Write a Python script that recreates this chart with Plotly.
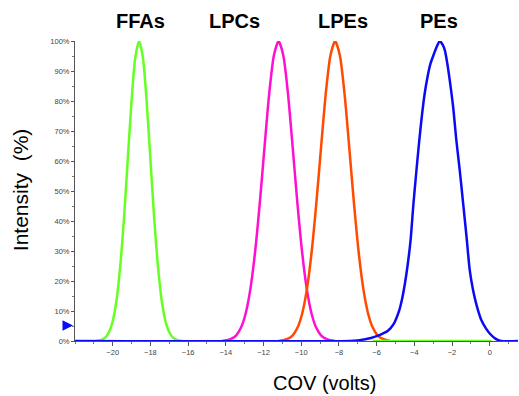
import plotly.graph_objects as go

# ---- data ----
ffa_x = [-20.9, -20.6, -20.4, -20.2, -20.0, -19.8, -19.6, -19.4, -19.2, -19.0, -18.8, -18.6,
         -18.4, -18.2, -18.0, -17.8, -17.6, -17.4, -17.2, -17.0, -16.8, -16.6, -16.3]
ffa_y = [0, 0.4, 1.1, 2.9, 6.6, 13.5, 25, 41, 60.6, 80, 94.6, 100,
         94.6, 80, 60.6, 41, 25, 13.5, 6.6, 2.9, 1.1, 0.4, 0]
ffa_base_x = [-6.2, 0.1]
ffa_base_y = [0, 0]

lpc_x = [-14.2, -13.95, -13.7, -13.45, -13.2, -12.95, -12.7, -12.45, -12.2, -11.95, -11.7, -11.45, -11.2,
         -10.95, -10.7, -10.45, -10.2, -9.95, -9.7, -9.45, -9.2, -8.95, -8.7, -8.45, -8.2]
lpc_y = [0.0, 0.27, 0.76, 1.9, 4.4, 9.1, 17.2, 29.5, 45.8, 64.4, 82.3, 95.2, 100,
         95.2, 82.3, 64.4, 45.8, 29.5, 17.2, 9.1, 4.4, 1.9, 0.76, 0.27, 0.0]

lpe_x = [-11.2, -10.95, -10.7, -10.45, -10.2, -9.95, -9.7, -9.45, -9.2, -8.95, -8.7, -8.45, -8.2,
         -7.95, -7.7, -7.45, -7.2, -6.95, -6.7, -6.45, -6.2, -5.95, -5.7, -5.45, -5.3]
lpe_y = [0.0, 0.27, 0.76, 1.9, 4.4, 9.1, 17.2, 29.5, 45.8, 64.4, 82.3, 95.2, 100,
         95.2, 82.3, 64.4, 45.8, 29.5, 17.2, 9.1, 4.4, 1.9, 0.76, 0.27, 0.0]

pe_x = [-22, -7.4, -7.0, -6.6, -6.3, -6.0, -5.7, -5.4, -5.1, -4.8, -4.65, -4.5, -4.35, -4.2,
        -4.05, -3.9, -3.75, -3.6, -3.45, -3.3, -3.15, -3.0, -2.85, -2.65,
        -2.5, -2.38, -2.25, -2.12, -1.94, -1.77, -1.59, -1.41, -1.23, -1.06, -0.9,
        -0.75, -0.6, -0.44, -0.2, 0.0, 0.3, 0.6, 1.5]
pe_y = [0, 0, 0.2, 0.6, 1.0, 1.6, 2.4, 3.4, 5.6, 10.2, 14, 19.1, 25.5, 33.5,
        45.5, 56, 66, 75, 82.5, 88, 92.3, 95, 97.5, 100,
        98.8, 96.9, 92.5, 86.9, 78, 66.9, 56.9, 45.9, 34.7, 23.6, 17.5,
        13.2, 9.8, 6.9, 4.2, 2.5, 0.8, 0, 0]

labels = ["FFAs", "LPCs", "LPEs", "PEs"]
label_x = [-18.5, -13.55, -7.8, -2.7]

x_tick_vals = [-20, -18, -16, -14, -12, -10, -8, -6, -4, -2, 0]
y_tick_vals = [0, 10, 20, 30, 40, 50, 60, 70, 80, 90, 100]
y_tick_text = ["0%", "10%", "20%", "30%", "40%", "50%", "60%", "70%", "80%", "90%", "100%"]

GREEN = "#66ff22"
MAGENTA = "#ff10d0"
ORANGE = "#ff4a00"
BLUE = "#0a0af5"
FONT = "Liberation Sans, Arial, sans-serif"

fig = go.Figure()

def add(x, y, color, name):
    fig.add_trace(go.Scatter(x=x, y=y, mode="lines", name=name,
                             line=dict(color=color, width=2.5, shape="spline", smoothing=0.7),
                             cliponaxis=False, showlegend=False))

add(ffa_x, ffa_y, GREEN, "FFAs")
add(lpc_x, lpc_y, MAGENTA, "LPCs")
add(lpe_x, lpe_y, ORANGE, "LPEs")
add(pe_x, pe_y, BLUE, "PEs")
fig.add_trace(go.Scatter(x=ffa_base_x, y=ffa_base_y, mode="lines",
                         line=dict(color=GREEN, width=2.5), cliponaxis=False, showlegend=False))

for t, lx in zip(labels, label_x):
    fig.add_annotation(x=lx, y=1.067, xref="x", yref="paper", text=f"<b>{t}</b>",
                       showarrow=False, font=dict(family=FONT, size=20, color="black"),
                       xanchor="center", yanchor="middle")

fig.add_annotation(x=-0.124, y=0.503, xref="paper", yref="paper", text="Intensity&nbsp;&nbsp;(%)",
                   textangle=-90, showarrow=False, font=dict(family=FONT, size=21, color="black"),
                   xanchor="center", yanchor="middle")
fig.add_annotation(x=-8.74, y=-0.14, xref="x", yref="paper", text="COV (volts)",
                   showarrow=False, font=dict(family=FONT, size=20, color="black"),
                   xanchor="center", yanchor="middle")

# blue marker arrow on the y axis
fig.add_annotation(x=0, y=5.2, xref="paper", yref="y", ax=-12, ay=0, text="",
                   showarrow=True, arrowhead=2, arrowsize=0.7, arrowwidth=3,
                   arrowcolor=BLUE, standoff=2)

fig.update_xaxes(range=[-22, 1.5], tickvals=x_tick_vals, ticks="outside", ticklen=4,
                 tickwidth=1, tickcolor="#555", showline=True, linecolor="#555", linewidth=1,
                 showgrid=False, zeroline=False,
                 tickfont=dict(family=FONT, size=7.5, color="#444"),
                 minor=dict(dtick=1, tick0=0, ticks="outside", ticklen=2, tickcolor="#777"))
fig.update_yaxes(range=[0, 100], tickmode="array", tickvals=y_tick_vals, ticktext=y_tick_text,
                 ticks="outside", ticklen=3, tickwidth=1, tickcolor="#555", showline=True,
                 linecolor="#555", linewidth=1, showgrid=False, zeroline=False,
                 tickfont=dict(family=FONT, size=7.5, color="#444"),
                 minor=dict(dtick=5, tick0=0, ticks="outside", ticklen=2, tickcolor="#777"))

fig.update_layout(width=519, height=396, margin=dict(l=75, r=1, t=41, b=55),
                  plot_bgcolor="white", paper_bgcolor="white", showlegend=False)

fig.write_html("out.html")
